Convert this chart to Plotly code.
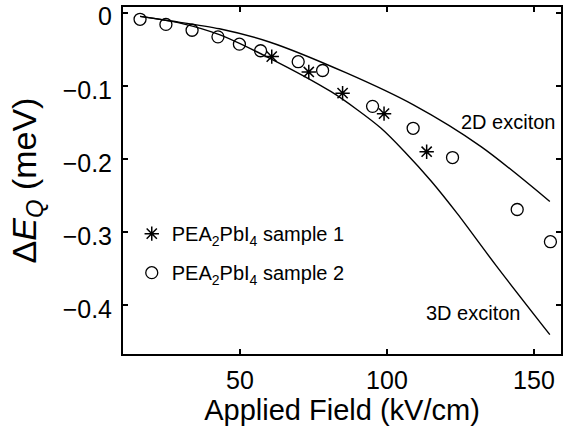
import plotly.graph_objects as go

# Sample 1 (asterisks)
s1_field = [60.8, 73.4, 84.9, 99.0, 113.5]
s1_shift = [-0.060, -0.081, -0.110, -0.138, -0.190]

# Sample 2 (open circles)
s2_field = [16.0, 24.8, 33.7, 42.5, 49.8, 57.0, 69.8, 78.1, 95.1, 108.9, 122.3, 144.3, 155.6]
s2_shift = [-0.009, -0.016, -0.024, -0.033, -0.043, -0.052, -0.067, -0.079, -0.128, -0.158, -0.198, -0.269, -0.313]

# 2D exciton model curve
d2_field = [16, 26, 43, 60, 86, 109, 132, 155.4]
d2_shift = [-0.005, -0.011, -0.022, -0.040, -0.082, -0.126, -0.183, -0.258]

# 3D exciton model curve
d3_field = [16, 30, 43, 60, 81, 90, 98, 106, 115, 124, 137, 155.4]
d3_shift = [-0.005, -0.0145, -0.030, -0.062, -0.108, -0.133, -0.158, -0.190, -0.230, -0.275, -0.345, -0.440]

x_ticks = [50, 100, 150]
y_ticks = [0, -0.1, -0.2, -0.3, -0.4]
y_tick_labels = ["0", "\u22120.1", "\u22120.2", "\u22120.3", "\u22120.4"]

FONT = "Liberation Sans, Arial, sans-serif"

fig = go.Figure()
for fx, fy in ((d2_field, d2_shift), (d3_field, d3_shift)):
    fig.add_trace(go.Scatter(x=fx, y=fy, mode="lines",
                             line=dict(color="black", width=1.4, shape="spline", smoothing=0.8),
                             showlegend=False, hoverinfo="skip"))
fig.add_trace(go.Scatter(x=s1_field, y=s1_shift, mode="markers",
                         marker=dict(symbol="asterisk-open", size=12, color="black", line=dict(color="black", width=1.5)),
                         name="PEA<sub>2</sub>PbI<sub>4</sub> sample 1", legendgroup="a"))
fig.add_trace(go.Scatter(x=s2_field, y=s2_shift, mode="markers",
                         marker=dict(symbol="circle-open", size=12, color="black", line=dict(color="black", width=1.3)),
                         name="PEA<sub>2</sub>PbI<sub>4</sub> sample 2", legendgroup="b"))

fig.add_annotation(x=141.5, y=-0.149, text="2D exciton", showarrow=False, font=dict(size=20, color="black", family=FONT))
fig.add_annotation(x=129.3, y=-0.410, text="3D exciton", showarrow=False, font=dict(size=20, color="black", family=FONT))

axis_common = dict(showline=True, linecolor="black", linewidth=2, mirror="ticks", ticks="inside", ticklen=5,
                   tickwidth=1.5, tickcolor="black", showgrid=False, zeroline=False, automargin=False,
                   ticklabeloverflow="allow",
                   tickfont=dict(size=25, color="black", family=FONT))

fig.update_layout(
    width=565, height=435,
    margin=dict(l=123, r=4, t=7, b=81),
    plot_bgcolor="white", paper_bgcolor="white",
    font=dict(family=FONT, color="black"),
    xaxis=dict(range=[10.2, 159.2], tickvals=x_ticks, ticktext=[str(v) for v in x_ticks], ticklabelstandoff=3,
               title=dict(text="Applied Field (kV/cm)", font=dict(size=29), standoff=4), **axis_common),
    yaxis=dict(range=[-0.4665, 0.0078], tickvals=y_ticks, ticktext=y_tick_labels, ticklabelstandoff=4,
               ticklabelshift=4,
               title=dict(text="Δ<i>E</i><sub><i>Q</i></sub> (meV)", font=dict(size=34), standoff=16), **axis_common),
    legend=dict(x=0.02, y=0.403, xanchor="left", yanchor="top", bgcolor="rgba(0,0,0,0)",
                font=dict(size=20, color="black", family=FONT), traceorder="grouped", tracegroupgap=10),
)

fig.write_html("out.html", config={"displayModeBar": False},
               post_script="document.body.style.margin='0px';document.body.style.overflow='hidden';")
